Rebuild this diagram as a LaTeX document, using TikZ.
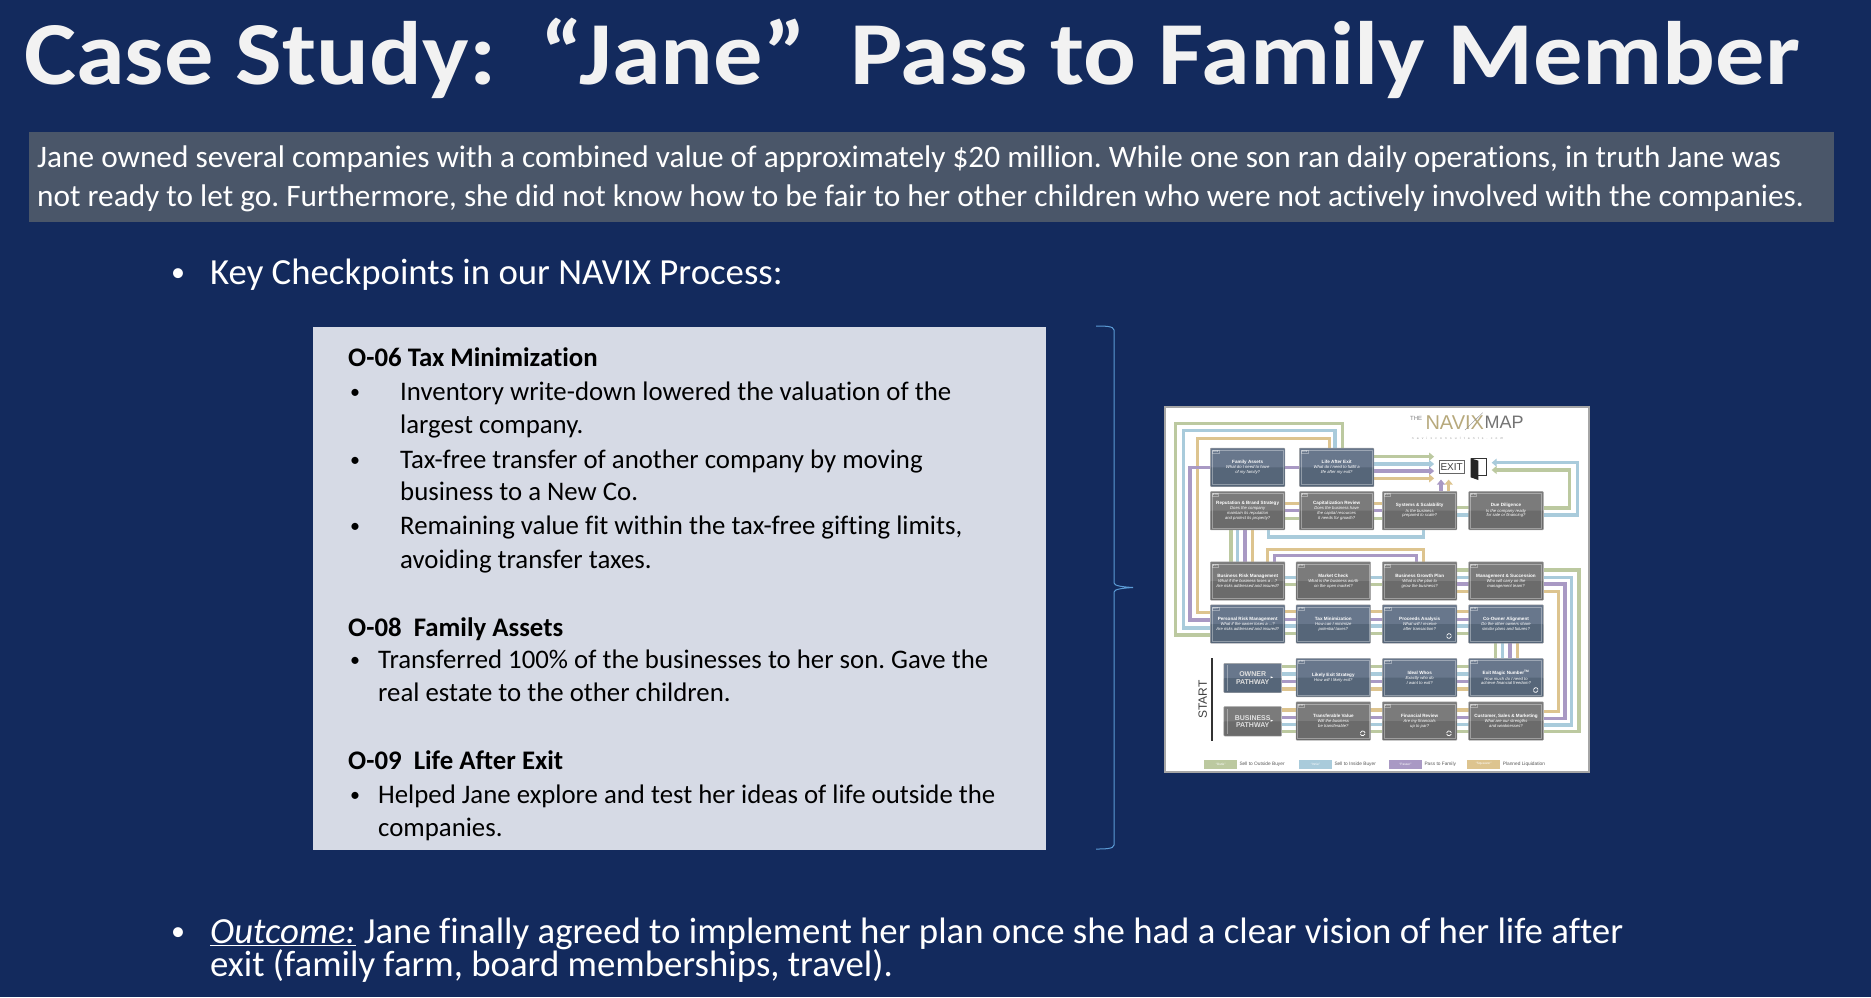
\documentclass[tikz,border=0pt]{standalone}
\usepackage{fontspec}
\setmainfont[Ligatures=NoCommon]{Carlito}
\newfontfamily\mapfont{Liberation Sans}
\newfontfamily\sitefont[LetterSpace=100]{Liberation Sans}
\usetikzlibrary{arrows.meta}
\frenchspacing

\definecolor{slideBlue}{HTML}{132A5D}
\definecolor{bannerGrey}{HTML}{4A5669}
\definecolor{panelGrey}{HTML}{D6DAE5}
\definecolor{braceBlue}{HTML}{5B9BD5}
\definecolor{titleWhite}{HTML}{F2F2F2}
\definecolor{slateTop}{HTML}{68778C}
\definecolor{slateLow}{HTML}{566679}
\definecolor{greyTop}{HTML}{7B7B7B}
\definecolor{greyLow}{HTML}{6B6B6B}
\definecolor{lineGreen}{HTML}{BCC9A0}
\definecolor{lineBlue}{HTML}{A9CBDB}
\definecolor{linePurple}{HTML}{A999C4}
\definecolor{lineTan}{HTML}{DDC48F}
\definecolor{logoTan}{HTML}{B7A97C}

\pgfdeclarelayer{back}
\pgfdeclarelayer{routes}
\pgfsetlayers{back,routes,main}

\tikzset{
	slidetext/.style={anchor=base west, inner sep=0pt, text=white, font=\fontsize{#1}{#1}\selectfont},
	paneltext/.style={anchor=base west, inner sep=0pt, text=black, font=\fontsize{26.8}{26.8}\selectfont},
	panelhead/.style={paneltext, font=\fontsize{26.8}{26.8}\selectfont\bfseries},
	paneldot/.style={paneltext, font=\fontsize{20}{20}\selectfont},
	routeGreen/.style={draw=lineGreen, line width=3.4pt},
	routeBlue/.style={draw=lineBlue, line width=3.4pt},
	routePurple/.style={draw=linePurple, line width=3.4pt},
	routeTan/.style={draw=lineTan, line width=3.4pt},
	tipped/.style={-{Triangle[length=5pt,width=8pt]}, shorten >=5pt},
	slatebox/.style={minimum width=74.6pt, minimum height=38.4pt, inner sep=0pt, rounded corners=0.7pt,
		draw=black!35, line width=0.4pt, fill=slateTop, text=white, align=center,
		font=\mapfont\fontsize{4.2}{4.7}\selectfont\itshape,
		path picture={\fill[slateLow] (path picture bounding box.west) rectangle (path picture bounding box.south east);}},
	greybox/.style={slatebox, fill=greyTop,
		path picture={\fill[greyLow] (path picture bounding box.west) rectangle (path picture bounding box.south east);}},
	boxframe/.style={draw=white, draw opacity=0.35, line width=0.5pt},
	boxtab/.style={anchor=north west, inner sep=0.6pt, draw=white, draw opacity=0.35, line width=0.4pt,
		text=white, font=\mapfont\fontsize{2.4}{2.4}\selectfont},
	swatch/.style={inner sep=0pt, minimum width=33pt, minimum height=9pt, text=white, font=\mapfont\fontsize{3.2}{3.2}\selectfont},
	legendtext/.style={anchor=west, inner sep=0pt, text=black!65, font=\mapfont\fontsize{4.8}{4.8}\selectfont},
	pathwaytext/.style={minimum width=57.6pt, minimum height=29.4pt, font=\mapfont\fontsize{7}{7.4}\selectfont\bfseries, text=white!88!black},
}

\newcommand{\mapbox}[7]{
	\node[#1] (#2) at (#3,#4) {{\fontsize{4.6}{5}\selectfont\upshape\bfseries #6}\\[0.6pt]#7};
	\draw[boxframe] ([shift={(1.8pt,2.2pt)}]#2.south west) rectangle ([shift={(-1.8pt,-2.2pt)}]#2.north east);
	\node[boxtab] (#2Tab) at ([shift={(1.8pt,-2.2pt)}]#2.north west) {#5};
}
\newcommand{\reloadmark}[2]{
	\draw[white, line width=0.7pt] (#1,#2) ++(14:2.4pt) arc (14:166:2.4pt);
	\draw[white, line width=0.7pt] (#1,#2) ++(194:2.4pt) arc (194:346:2.4pt);
}

\begin{document}
\begin{tikzpicture}[x=1pt, y=-1pt]
	%%%%% START %%%%%
	\begin{pgfonlayer}{back}
		\fill[slideBlue] (0,0) rectangle (1871,997);
		\fill[bannerGrey] (29,132) rectangle (1834,222);
		\fill[panelGrey] (312.5,327) rectangle (1046,850);
		\draw[fill=white, draw=black!35, line width=1.2pt] (1165,407) rectangle (1589,772);
	\end{pgfonlayer}
	\useasboundingbox (0,0) rectangle (1871,997);

	\node[slidetext=90, text=titleWhite, font=\fontsize{90}{90}\selectfont\bfseries] (title) at (24,84) {\scalebox{1.094}[1]{Case Study:\ \ “Jane”\ \ Pass to Family Member}};

	\node[slidetext=31.3] (caseA) at (37,167) {Jane owned several companies with a combined value of approximately \$20 million. While one son ran daily operations, in truth Jane was};
	\node[slidetext=31.3] (caseB) at (37,206) {not ready to let go. Furthermore, she did not know how to be fair to her other children who were not actively involved with the companies.};

	\node[slidetext=28] (dotKey) at (171,281) {•};
	\node[slidetext=36.8] (keyLine) at (210,284) {Key Checkpoints in our NAVIX Process:};

	% panel
	\node[panelhead] (headTax) at (348,366) {O-06 Tax Minimization};
	\node[paneldot] (dotA) at (350,398) {•};
	\node[paneltext] (lineA) at (400,400) {Inventory write-down lowered the valuation of the};
	\node[paneltext] (lineB) at (400,433) {largest company.};
	\node[paneldot] (dotB) at (350,466) {•};
	\node[paneltext] (lineC) at (400,468) {Tax-free transfer of another company by moving};
	\node[paneltext] (lineD) at (400,500) {business to a New Co.};
	\node[paneldot] (dotC) at (350,532) {•};
	\node[paneltext] (lineE) at (400,534) {Remaining value fit within the tax-free gifting limits,};
	\node[paneltext] (lineF) at (400,568) {avoiding transfer taxes.};

	\node[panelhead] (headFamily) at (348,636) {O-08\ \ Family Assets};
	\node[paneldot] (dotD) at (350,666) {•};
	\node[paneltext] (lineG) at (378,668) {Transferred 100\% of the businesses to her son. Gave the};
	\node[paneltext] (lineH) at (378,701) {real estate to the other children.};

	\node[panelhead] (headLife) at (348,769) {O-09\ \ Life After Exit};
	\node[paneldot] (dotE) at (350,801) {•};
	\node[paneltext] (lineI) at (378,803) {Helped Jane explore and test her ideas of life outside the};
	\node[paneltext] (lineJ) at (378,836) {companies.};

	% brace
	\draw[braceBlue, line width=1pt] (1096,326) .. controls (1104,326) and (1114,326) .. (1114,330) -- (1114,583)
		.. controls (1114,586) and (1124,587) .. (1133,587.5) .. controls (1124,588) and (1114,589) .. (1114,592)
		-- (1114,845) .. controls (1114,849) and (1104,849) .. (1096,849);

	% outcome
	\node[slidetext=28] (dotOut) at (171,940) {•};
	\node[slidetext=36.8] (outA) at (210,943) {\underline{\textit{Outcome:}} Jane finally agreed to implement her plan once she had a clear vision of her life after};
	\node[slidetext=36.8] (outB) at (210,976) {exit (family farm, board memberships, travel).};

	%%%%% MAP %%%%%
	\begin{scope}[shift={(1150,390)}, x=0.33333pt, y=-0.33333pt]
		\mapbox{slatebox}{FamilyAssets}{293}{232}{O-08}{Family Assets}{What do I need to have\\of my family?}
		\mapbox{slatebox}{LifeAfter}{560}{232}{O-09}{Life After Exit}{What do I need to fulfill a\\life after my exit?}

		\mapbox{greybox}{Reputation}{293}{362}{B-08}{Reputation \& Brand Strategy}{Does the company\\maintain its reputation\\and protect its property?}
		\mapbox{greybox}{Capital}{560}{362}{B-09}{Capitalization Review}{Does the business have\\the capital resources\\it needs for growth?}
		\mapbox{greybox}{Systems}{809}{362}{B-10}{Systems \& Scalability}{Is the business\\prepared to scale?}
		\mapbox{greybox}{DueDil}{1068}{362}{B-11}{Due Diligence}{Is the company ready\\for sale or financing?}

		\mapbox{greybox}{BizRisk}{293}{573}{B-07}{Business Risk Management}{What if the business loses a ...?\\Are risks addressed and insured?}
		\mapbox{greybox}{Market}{550}{573}{B-06}{Market Check}{What is the business worth\\on the open market?}
		\mapbox{greybox}{Growth}{809}{573}{B-05}{Business Growth Plan}{What is the plan to\\grow the business?}
		\mapbox{greybox}{Succession}{1068}{573}{B-04}{Management \& Succession}{Who will carry on the\\management team?}

		\mapbox{slatebox}{PersRisk}{293}{702}{O-07}{Personal Risk Management}{What if the owner loses a ...?\\Are risks addressed and insured?}
		\mapbox{slatebox}{TaxMin}{550}{702}{O-06}{Tax Minimization}{How can I minimize\\potential taxes?}
		\mapbox{slatebox}{Proceeds}{809}{702}{O-05}{Proceeds Analysis}{What will I receive\\after transaction?}
		\mapbox{slatebox}{CoOwner}{1068}{702}{O-04}{Co-Owner Alignment}{Do the other owners share\\similar plans and futures?}

		\mapbox{slatebox}{LikelyExit}{550}{863}{O-01}{Likely Exit Strategy}{How will I likely exit?}
		\mapbox{slatebox}{IdealWhos}{809}{863}{O-02}{Ideal Whos}{Exactly who do\\I want to exit?}
		\mapbox{slatebox}{MagicNum}{1068}{863}{O-03}{Exit Magic Number\textsuperscript{TM}}{How much do I need to\\achieve financial freedom?}

		\mapbox{greybox}{Transfer}{550}{993}{B-01}{Transferable Value}{Will the business\\be transferable?}
		\mapbox{greybox}{FinReview}{809}{993}{B-02}{Financial Review}{Are my financials\\up to par?}
		\mapbox{greybox}{Customer}{1068}{993}{B-03}{Customer, Sales \& Marketing}{What are our strengths\\and weaknesses?}

		\node[slatebox, pathwaytext] (OwnerPath) at (308,864) {OWNER\\PATHWAY};
		\node[greybox, pathwaytext] (BizPath) at (308,994) {BUSINESS\\PATHWAY};
		\draw[boxframe] (232,826) -- (232,902);
		\draw[boxframe] (232,956) -- (232,1032);
		\fill[white] (362,859) -- (369,862) -- (362,865) -- cycle;
		\fill[white] (362,989) -- (369,992) -- (362,995) -- cycle;

		\node[inner sep=0.5pt, draw=black!60, fill=white, line width=0.7pt, minimum width=24.4pt, minimum height=12.4pt, text=black!75, font=\mapfont\fontsize{10}{10}\selectfont] (ExitBox) at (905,231) {EXIT};
		\fill[black!85] (962,205) -- (985,212) -- (985,270) -- (962,262) -- cycle;
		\draw[black!80, line width=0.7pt] (985,205) -- (1008,205) -- (1008,255) -- (985,255);
		\draw[black!80, line width=0.7pt] (962,205) -- (985,205);
		\coordinate (DoorEdge) at (1025,231);

		\reloadmark{897}{738}
		\reloadmark{1157}{900}
		\reloadmark{638}{1030}
		\reloadmark{897}{1030}

		\node[inner sep=0pt, text=black!75, font=\mapfont\fontsize{12}{12}\selectfont, rotate=90] (startLabel) at (158,928) {START};
		\draw[black!80, line width=2pt] (185,805) -- (185,1052);

		% logo
		\node[anchor=west, inner sep=0pt, text=black!50, font=\mapfont\fontsize{6}{6}\selectfont] (logoThe) at (780,84) {THE};
		\node[anchor=west, inner sep=0pt, text=logoTan, font=\mapfont\fontsize{20}{20}\selectfont] (logoNavix) at (826,98) {NAVIX};
		\node[anchor=west, inner sep=0pt, text=black!55, font=\mapfont\fontsize{18}{18}\selectfont] (logoMap) at (1003,98) {MAP};
		\draw[black!45, line width=0.4pt] (945,120) -- (998,68);
		\node[anchor=west, inner sep=0pt, text=black!40, font=\sitefont\fontsize{3.2}{3.2}\selectfont] (logoSite) at (785,146) {navixconsultants.com};

		% legend
		\node[swatch, fill=lineGreen] (keyOutie) at (212,1122) {“Outie”};
		\node[legendtext] (keyOutieText) at (268,1122) {Sell to Outside Buyer};
		\node[swatch, fill=lineBlue] (keyInnie) at (496,1122) {“Innie”};
		\node[legendtext] (keyInnieText) at (553,1122) {Sell to Inside Buyer};
		\node[swatch, fill=linePurple] (keyPasser) at (766,1122) {“Passer”};
		\node[legendtext] (keyPasserText) at (823,1122) {Pass to Family};
		\node[swatch, fill=lineTan] (keySqueezer) at (1001,1122) {“Squeezer”};
		\node[legendtext] (keySqueezerText) at (1058,1122) {Planned Liquidation};

		\begin{pgfonlayer}{routes}
			% upper loop
			\draw[routeGreen] (LifeAfter.north -| 577,0) |- (77,100) |- (PersRisk.west |- 0,735);
			\draw[routeBlue] (LifeAfter.north -| 555,0) |- (100,122) |- (PersRisk.west |- 0,714);
			\draw[routeTan] (LifeAfter.north -| 538,0) |- (143,146) |- (PersRisk.west |- 0,668);
			\draw[routePurple] (LifeAfter.west |- 0,233) -- (120,233) |- (PersRisk.west |- 0,690);
			% into exit
			\foreach \route/\yy in {routeGreen/200,routeBlue/222,routePurple/243,routeTan/265}
				\draw[\route, tipped] (LifeAfter.east |- 0,\yy) -- (ExitBox.west |- 0,\yy);
			\draw[routePurple, tipped, shorten >=6pt] (Systems.north -| 873,0) -- (ExitBox.south -| 873,0);
			\draw[routeTan, tipped, shorten >=6pt] (Systems.north -| 896,0) -- (ExitBox.south -| 896,0);
			\draw[routeBlue, tipped, shorten >=0pt] (DueDil.east |- 0,375) -| (1282,218) -- (DoorEdge |- 0,218);
			\draw[routeGreen, tipped, shorten >=0pt] (DueDil.east |- 0,354) -| (1258,240) -- (DoorEdge |- 0,240);
			% second row
			\foreach \route/\yy in {routeTan/340,routePurple/362,routeGreen/385}
				\draw[\route] (Reputation.east |- 0,\yy) -- (Systems.west |- 0,\yy);
			\foreach \route/\yy in {routeGreen/352,routeBlue/375}
				\draw[\route] (Systems.east |- 0,\yy) -- (DueDil.west |- 0,\yy);
			\draw[routeBlue] (Reputation.south -| 355,0) |- (820,441) -- (Systems.south -| 820,0);
			\foreach \route/\xx in {routeGreen/243,routeBlue/263,routePurple/285,routeTan/307}
				\draw[\route] (Reputation.south -| \xx,0) -- (BizRisk.north -| \xx,0);
			% third row
			\draw[routeTan] (BizRisk.north -| 352,0) |- (820,478) -- (Growth.north -| 820,0);
			\draw[routePurple] (BizRisk.north -| 373,0) |- (800,497) -- (Growth.north -| 800,0);
			\foreach \route/\yy in {routeBlue/563,routeGreen/584}
				\draw[\route] (BizRisk.east |- 0,\yy) -- (Growth.west |- 0,\yy);
			\foreach \route/\yy in {routeGreen/540,routeBlue/562,routePurple/582,routeTan/604}
				\draw[\route] (Growth.east |- 0,\yy) -- (Succession.west |- 0,\yy);
			% right side
			\draw[routeGreen] (Succession.east |- 0,540) -| (1287,1025) -- (Customer.east |- 0,1025);
			\draw[routeBlue] (Succession.east |- 0,562) -| (1265,1005) -- (Customer.east |- 0,1005);
			\draw[routePurple] (Succession.east |- 0,582) -| (1245,985) -- (Customer.east |- 0,985);
			\draw[routeTan] (Succession.east |- 0,604) -| (1225,965) -- (Customer.east |- 0,965);
			% lower rows
			\foreach \route/\yy in {routeTan/665,routePurple/688,routeBlue/708,routeGreen/730}
				\draw[\route] (PersRisk.east |- 0,\yy) -- (CoOwner.west |- 0,\yy);
			\foreach \route/\xx in {routeGreen/1037,routeBlue/1058,routePurple/1080,routeTan/1102}
				\draw[\route] (CoOwner.south -| \xx,0) -- (MagicNum.north -| \xx,0);
			\foreach \route/\yy in {routeGreen/830,routeBlue/852,routePurple/875,routeTan/897}
				\draw[\route] (OwnerPath.east |- 0,\yy) -- (MagicNum.west |- 0,\yy);
			\foreach \route/\yy in {routeTan/960,routePurple/982,routeBlue/1003,routeGreen/1025}
				\draw[\route] (BizPath.east |- 0,\yy) -- (Customer.west |- 0,\yy);
		\end{pgfonlayer}
	\end{scope}
	%%%%% END %%%%%
\end{tikzpicture}
\end{document}
